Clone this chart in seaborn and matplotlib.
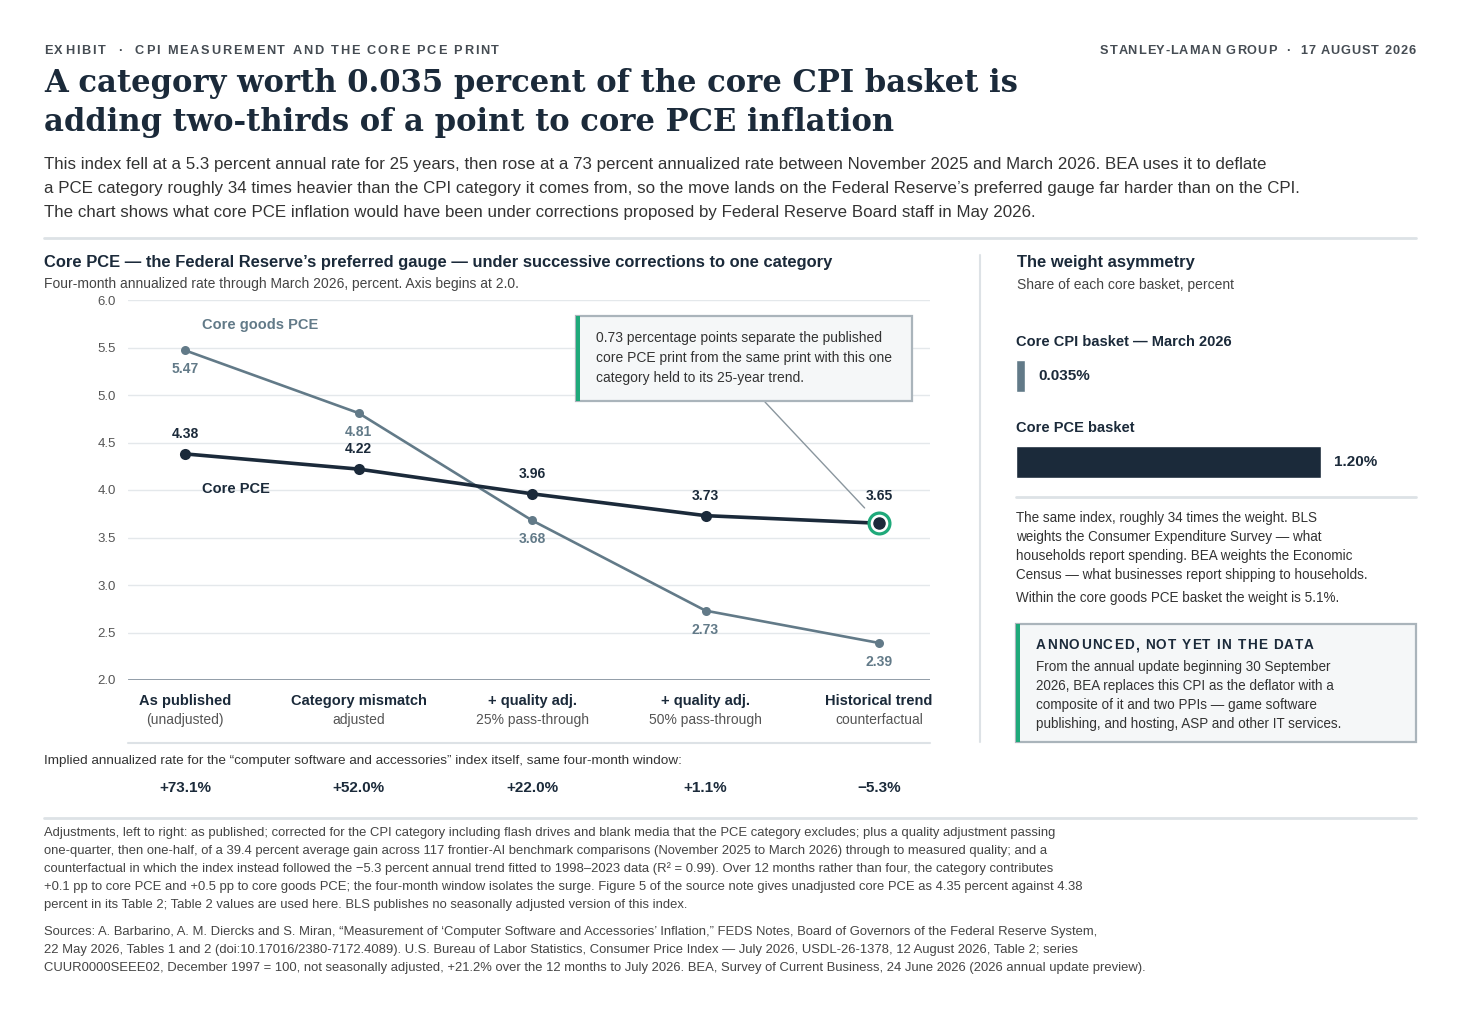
import matplotlib
matplotlib.use("Agg")
import matplotlib.pyplot as plt
import seaborn as sns
import pandas as pd
from matplotlib.patches import Rectangle
from matplotlib.lines import Line2D
from matplotlib.transforms import blended_transform_factory

# ---------------- data ----------------
categories = ["As published", "Category mismatch", "+ quality adj.", "+ quality adj.", "Historical trend"]
sub_categories = ["(unadjusted)", "adjusted", "25% pass-through", "50% pass-through", "counterfactual"]
core_pce = [4.38, 4.22, 3.96, 3.73, 3.65]
core_goods_pce = [5.47, 4.81, 3.68, 2.73, 2.39]
implied_rates = ["+73.1%", "+52.0%", "+22.0%", "+1.1%", "\u22125.3%"]
y_ticks = [2.0, 2.5, 3.0, 3.5, 4.0, 4.5, 5.0, 5.5, 6.0]
basket_names = ["Core CPI basket \u2014 March 2026", "Core PCE basket"]
basket_weights = [0.035, 1.20]
basket_labels = ["0.035%", "1.20%"]

# ---------------- style ----------------
sns.set_theme(style="white")
SANS = ["Liberation Sans", "DejaVu Sans"]
SERIF = ["DejaVu Serif", "Liberation Serif"]
plt.rcParams["font.family"] = SANS

NAVY = "#1b2a3a"
SLATE = "#627a88"
GREEN = "#1fa97a"
GRID = "#e4e8eb"
RULE = "#dde2e6"
TXT = "#333333"
GREY = "#555555"

W, H = 1459, 1015
fig = plt.figure(figsize=(W / 100, H / 100), dpi=100)
fig.patch.set_facecolor("white")
renderer = fig.canvas.get_renderer()


def fx(x):
    return x / W


def fy(y):
    return 1 - y / H


def pt(px):
    return px * 0.72


def T(x, y, s, size, color=TXT, weight="normal", ha="left", va="center", family=SANS, **kw):
    return fig.text(fx(x), fy(y), s, fontsize=size, color=color, fontweight=weight,
                    ha=ha, va=va, family=family, **kw)


def text_width(s, size, weight, family):
    probe = fig.text(0, 0, s + "|", fontsize=size, fontweight=weight, family=family)
    bar = fig.text(0, 0, "|", fontsize=size, fontweight=weight, family=family)
    w = probe.get_window_extent(renderer).width - bar.get_window_extent(renderer).width
    probe.remove()
    bar.remove()
    return w


def tracked(x, y, s, size, tracking, color=TXT, weight="bold", ha="left", family=SANS, zorder=8):
    total = text_width(s, size, weight, family) + tracking * (len(s) - 1)
    x0 = x - total if ha == "right" else x
    for i, ch in enumerate(s):
        if ch == " ":
            continue
        off = text_width(s[:i], size, weight, family) if i else 0.0
        T(x0 + off + tracking * i, y, ch, size, color=color, weight=weight, family=family,
          zorder=zorder)


def hrule(x1, x2, y, color=RULE, lw=1.5):
    fig.add_artist(Line2D([fx(x1), fx(x2)], [fy(y), fy(y)], color=color, lw=lw,
                          transform=fig.transFigure))


def box(x1, y1, x2, y2):
    fig.add_artist(Rectangle((fx(x1), fy(y2)), fx(x2) - fx(x1), fy(y1) - fy(y2),
                             transform=fig.transFigure, facecolor="#f5f7f8",
                             edgecolor="#aab4bb", lw=1.6, zorder=5))
    fig.add_artist(Rectangle((fx(x1), fy(y2)), fx(4), fy(y1) - fy(y2),
                             transform=fig.transFigure, facecolor=GREEN,
                             edgecolor="none", zorder=6))


# ---------------- header ----------------
tracked(44, 51, "EXHIBIT  \u00b7  CPI MEASUREMENT AND THE CORE PCE PRINT", 9.2, 1.85, color="#454c53")
tracked(1416, 51, "STANLEY-LAMAN GROUP  \u00b7  17 AUGUST 2026", 9.2, 1.0, color="#454c53", ha="right")

T(44, 84, "A category worth 0.035 percent of the core CPI basket is", 22.1, color=NAVY,
  weight="bold", family=SERIF)
T(44, 122, "adding two-thirds of a point to core PCE inflation", 22.1, color=NAVY,
  weight="bold", family=SERIF)

intro = [
    "This index fell at a 5.3 percent annual rate for 25 years, then rose at a 73 percent annualized rate between November 2025 and March 2026. BEA uses it to deflate",
    "a PCE category roughly 34 times heavier than the CPI category it comes from, so the move lands on the Federal Reserve\u2019s preferred gauge far harder than on the CPI.",
    "The chart shows what core PCE inflation would have been under corrections proposed by Federal Reserve Board staff in May 2026.",
]
for i, line in enumerate(intro):
    T(44, 164 + 24 * i, line, 12.2, color=TXT)

hrule(44, 1416, 238, lw=2)
hrule(44, 1416, 818, lw=2)
fig.add_artist(Line2D([fx(980), fx(980)], [fy(255), fy(742)], color=RULE, lw=1.5,
                      transform=fig.transFigure))

# ---------------- left chart ----------------
T(44, 262, "Core PCE \u2014 the Federal Reserve\u2019s preferred gauge \u2014 under successive corrections to one category",
  11.9, color=NAVY, weight="bold")
T(44, 284, "Four-month annualized rate through March 2026, percent. Axis begins at 2.0.", 10, color="#444444")

ax = fig.add_axes([fx(128), fy(680), fx(930) - fx(128), fy(300) - fy(680)])
ax.set_facecolor("none")
xpos = list(range(len(categories)))
df = pd.DataFrame({
    "x": xpos * 2,
    "value": core_pce + core_goods_pce,
    "series": ["Core PCE"] * len(xpos) + ["Core goods PCE"] * len(xpos),
})
sns.lineplot(data=df[df.series == "Core goods PCE"], x="x", y="value", ax=ax, color=SLATE,
             lw=1.9, marker="o", markersize=6.5, markeredgewidth=0, zorder=3)
sns.lineplot(data=df[df.series == "Core PCE"], x="x", y="value", ax=ax, color=NAVY,
             lw=2.6, marker="o", markersize=8, markeredgewidth=0, zorder=4)
# ring on the final point
ax.plot([xpos[-1]], [core_pce[-1]], marker="o", markersize=15, markerfacecolor="white",
        markeredgecolor=GREEN, markeredgewidth=2.3, zorder=5, lw=0)
ax.plot([xpos[-1]], [core_pce[-1]], marker="o", markersize=8, color=NAVY, zorder=6, lw=0)

ax.set_xlim(-0.329, 4.294)
ax.set_ylim(2.0, 6.0)
ax.set_yticks(y_ticks)
ax.set_yticklabels([f"{v:.1f}" for v in y_ticks])
ax.set_xticks([])
ax.set_xlabel("")
ax.set_ylabel("")
ax.tick_params(axis="y", length=0, pad=pt(12), labelsize=9.5, labelcolor=GREY)
for s in ax.spines.values():
    s.set_visible(False)
for v in y_ticks[1:]:
    ax.axhline(v, color=GRID, lw=1, zorder=0)
ax.axhline(2.0, color="#8794a0", lw=2, zorder=1)

for i, v in enumerate(core_pce):
    off = 27 if i == len(core_pce) - 1 else 20
    ax.annotate(f"{v:.2f}", (xpos[i], v), xytext=(0, pt(off)), textcoords="offset points",
                ha="center", va="center", fontsize=10, fontweight="bold", color=NAVY)
for i, v in enumerate(core_goods_pce):
    ax.annotate(f"{v:.2f}", (xpos[i], v), xytext=(0, -pt(19)), textcoords="offset points",
                ha="center", va="center", fontsize=10, fontweight="bold", color=SLATE)

T(202, 325, "Core goods PCE", 10.5, color=SLATE, weight="bold")
T(202, 489, "Core PCE", 10.5, color=NAVY, weight="bold")

# annotation box and leader
box(576, 316, 912, 401)
for i, line in enumerate(["0.73 percentage points separate the published",
                          "core PCE print from the same print with this one",
                          "category held to its 25-year trend."]):
    T(596, 338 + 20 * i, line, 10, color=TXT, zorder=7)
ax.annotate("", xy=(xpos[-1], core_pce[-1]), xytext=(fx(765), fy(402)),
            textcoords="figure fraction",
            arrowprops=dict(arrowstyle="-", color="#8a969e", lw=1, shrinkA=0, shrinkB=pt(21)))

# category labels
bt = blended_transform_factory(ax.transData, fig.transFigure)
for i in xpos:
    ax.text(xpos[i], fy(701), categories[i], transform=bt, ha="center", va="center",
            fontsize=10.5, fontweight="bold", color=NAVY)
    ax.text(xpos[i], fy(720), sub_categories[i], transform=bt, ha="center", va="center",
            fontsize=10, color=GREY)
    ax.text(xpos[i], fy(788), implied_rates[i], transform=bt, ha="center", va="center",
            fontsize=11, fontweight="bold", color=NAVY)
hrule(128, 930, 743, lw=1.5)
T(44, 761, "Implied annualized rate for the \u201ccomputer software and accessories\u201d index itself, same four-month window:",
  9.7, color=TXT)

# ---------------- right panel ----------------
T(1017, 262, "The weight asymmetry", 11.9, color=NAVY, weight="bold")
T(1017, 285, "Share of each core basket, percent", 10, color="#444444")
T(1016, 342, basket_names[0], 10.5, color=NAVY, weight="bold")
T(1016, 428, basket_names[1], 10.5, color=NAVY, weight="bold")

ax2 = fig.add_axes([fx(1016), fy(505), fx(1416) - fx(1016), fy(333) - fy(505)])
ax2.set_facecolor("none")
bdf = pd.DataFrame({"basket": basket_names, "weight": basket_weights})
sns.barplot(data=bdf, x="weight", y="basket", hue="basket", palette=[SLATE, NAVY],
            orient="h", width=0.372, ax=ax2, legend=False, saturation=1)
ax2.set_xlim(0, 400 / 254.2)
ax2.set_ylim(1.5, -0.5)
ax2.axis("off")
for i, (v, lab) in enumerate(zip(basket_weights, basket_labels)):
    ax2.annotate(lab, (v, i), xytext=(pt(13), 0), textcoords="offset points",
                 ha="left", va="center", fontsize=11, fontweight="bold", color=NAVY)

hrule(1016, 1416, 497, lw=2)
for i, line in enumerate(["The same index, roughly 34 times the weight. BLS",
                          "weights the Consumer Expenditure Survey \u2014 what",
                          "households report spending. BEA weights the Economic",
                          "Census \u2014 what businesses report shipping to households."]):
    T(1016, 518 + 19 * i, line, 9.75, color=TXT)
T(1016, 598, "Within the core goods PCE basket the weight is 5.1%.", 9.75, color=TXT)

box(1016, 624, 1416, 742)
tracked(1036, 645, "ANNOUNCED, NOT YET IN THE DATA", 9.8, 1.2, color=NAVY)
for i, line in enumerate(["From the annual update beginning 30 September",
                          "2026, BEA replaces this CPI as the deflator with a",
                          "composite of it and two PPIs \u2014 game software",
                          "publishing, and hosting, ASP and other IT services."]):
    T(1036, 667 + 19 * i, line, 9.75, color=TXT, zorder=7)

# ---------------- footnotes ----------------
notes = [
    "Adjustments, left to right: as published; corrected for the CPI category including flash drives and blank media that the PCE category excludes; plus a quality adjustment passing",
    "one-quarter, then one-half, of a 39.4 percent average gain across 117 frontier-AI benchmark comparisons (November 2025 to March 2026) through to measured quality; and a",
    "counterfactual in which the index instead followed the \u22125.3 percent annual trend fitted to 1998\u20132023 data (R\u00b2 = 0.99). Over 12 months rather than four, the category contributes",
    "+0.1 pp to core PCE and +0.5 pp to core goods PCE; the four-month window isolates the surge. Figure 5 of the source note gives unadjusted core PCE as 4.35 percent against 4.38",
    "percent in its Table 2; Table 2 values are used here. BLS publishes no seasonally adjusted version of this index.",
]
for i, line in enumerate(notes):
    T(44, 833 + 18 * i, line, 9.37, color="#444444")
sources = [
    "Sources: A. Barbarino, A. M. Diercks and S. Miran, \u201cMeasurement of \u2018Computer Software and Accessories\u2019 Inflation,\u201d FEDS Notes, Board of Governors of the Federal Reserve System,",
    "22 May 2026, Tables 1 and 2 (doi:10.17016/2380-7172.4089). U.S. Bureau of Labor Statistics, Consumer Price Index \u2014 July 2026, USDL-26-1378, 12 August 2026, Table 2; series",
    "CUUR0000SEEE02, December 1997 = 100, not seasonally adjusted, +21.2% over the 12 months to July 2026. BEA, Survey of Current Business, 24 June 2026 (2026 annual update preview).",
]
for i, line in enumerate(sources):
    T(44, 932 + 18 * i, line, 9.37, color="#444444")

fig.savefig("out.png", dpi=100, facecolor="white")
